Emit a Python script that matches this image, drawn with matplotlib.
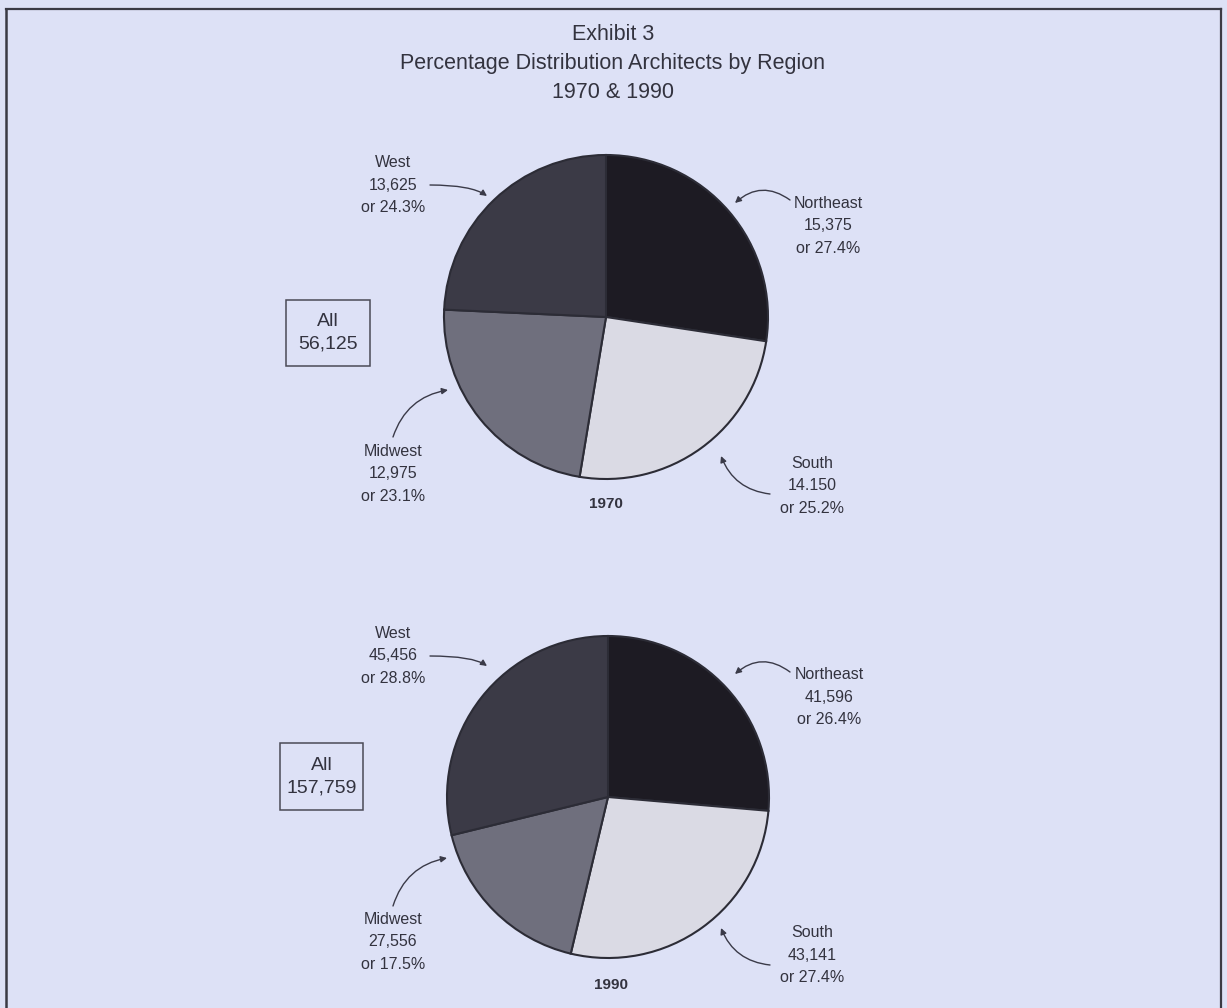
import matplotlib
matplotlib.use("Agg")
import matplotlib.pyplot as plt
from matplotlib.patches import Rectangle

plt.rcParams['font.family'] = ['Liberation Sans Narrow', 'Liberation Sans', 'DejaVu Sans']

regions = ["Northeast", "South", "Midwest", "West"]
counts_1970 = [15375, 14150, 12975, 13625]
counts_1990 = [41596, 43141, 27556, 45456]
labels_1970 = ["Northeast\n15,375\nor 27.4%", "South\n14.150\nor 25.2%",
               "Midwest\n12,975\nor 23.1%", "West\n13,625\nor 24.3%"]
labels_1990 = ["Northeast\n41,596\nor 26.4%", "South\n43,141\nor 27.4%",
               "Midwest\n27,556\nor 17.5%", "West\n45,456\nor 28.8%"]
totals = ["All\n56,125", "All\n157,759"]
years = ["1970", "1990"]
colors = ["#1d1b23", "#dadae4", "#6f6f7d", "#3b3a46"]

W, H = 1227, 1008
BG = "#dde1f6"
TXT = "#33333f"

fig = plt.figure(figsize=(W / 100, H / 100), dpi=100, facecolor=BG)
ax = fig.add_axes([0, 0, 1, 1])
ax.set_facecolor(BG)

def Y(py):
    return H - py

# frame border
ax.plot([6, 6], [Y(1008), Y(9)], color="#3a3a44", lw=1.8, solid_capstyle="butt")
ax.plot([6, 1221], [Y(9), Y(9)], color="#3a3a44", lw=1.6)
ax.plot([1221, 1221], [Y(9), Y(1008)], color="#3a3a44", lw=1.6)

ax.text(613, Y(63), "Exhibit 3\nPercentage Distribution Architects by Region\n1970 & 1990",
        ha="center", va="center", fontsize=15.5, color=TXT, linespacing=1.5)

pies = [
    dict(values=counts_1970, labels=labels_1970, center=(606, 317), r=162,
         year=years[0], year_pos=(606, 504), total=totals[0], box=(286, 300, 84, 66),
         lab=[(828, 226), (812, 486), (393, 474), (393, 185)],
         arr=[((790, 200), (735, 203), "arc3,rad=0.4"),
              ((770, 494), (721, 456), "arc3,rad=-0.3"),
              ((393, 437), (448, 390), "arc3,rad=-0.3"),
              ((430, 185), (487, 196), "angle3,angleA=0,angleB=-35")]),
    dict(values=counts_1990, labels=labels_1990, center=(608, 797), r=161,
         year=years[1], year_pos=(611, 985), total=totals[1], box=(280, 743, 83, 67),
         lab=[(829, 697), (812, 955), (393, 942), (393, 656)],
         arr=[((790, 672), (735, 674), "arc3,rad=0.4"),
              ((770, 965), (721, 928), "arc3,rad=-0.3"),
              ((393, 906), (447, 858), "arc3,rad=-0.3"),
              ((430, 656), (487, 666), "angle3,angleA=0,angleB=-35")]),
]

for p in pies:
    cx, cy = p["center"]
    ax.pie(p["values"], colors=colors, startangle=90, counterclock=False,
           center=(cx, Y(cy)), radius=p["r"], frame=True,
           wedgeprops=dict(edgecolor="#2c2c36", linewidth=1.5))
    for (lx, ly), t in zip(p["lab"], p["labels"]):
        ax.text(lx, Y(ly), t, ha="center", va="center", fontsize=11.5,
                color=TXT, linespacing=1.62)
    for (s, e, cs) in p["arr"]:
        ax.annotate("", xy=(e[0], Y(e[1])), xytext=(s[0], Y(s[1])),
                    arrowprops=dict(arrowstyle="-|>", mutation_scale=9, lw=1.0,
                                    color="#3a3a48", connectionstyle=cs,
                                    shrinkA=0, shrinkB=0))
    ax.text(p["year_pos"][0], Y(p["year_pos"][1]), p["year"], ha="center",
            va="center", fontsize=11, fontweight="bold", color=TXT)
    bx, by, bw, bh = p["box"]
    ax.add_patch(Rectangle((bx, Y(by + bh)), bw, bh, fill=False,
                           edgecolor="#4a4a56", lw=1.1))
    ax.text(bx + bw / 2, Y(by + bh / 2), p["total"], ha="center", va="center",
            fontsize=14, color=TXT, linespacing=1.45)

ax.set_xlim(0, W)
ax.set_ylim(0, H)
ax.set_aspect("auto")
ax.axis("off")

fig.savefig("out.png", dpi=100, facecolor=BG)
